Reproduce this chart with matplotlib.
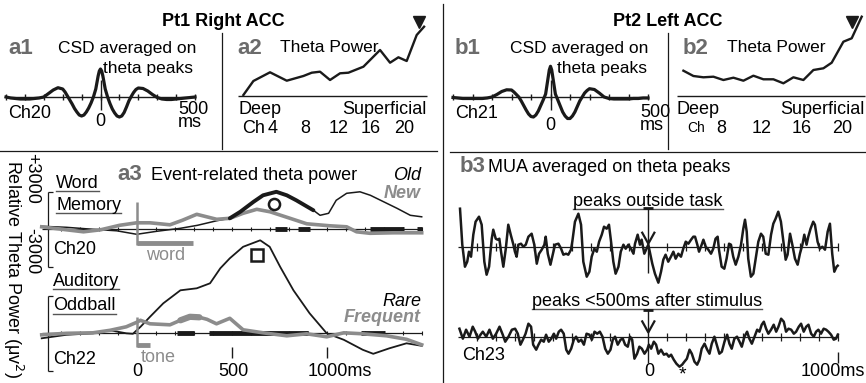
import numpy as np
import matplotlib
matplotlib.use('Agg')
import matplotlib.pyplot as plt

plt.rcParams['font.family'] = ['Liberation Sans', 'DejaVu Sans']

W, H = 866, 383
GRAY = '#8c8c8c'
LAB = '#6b6b6b'
INK = '#1a1a1a'

# ---- a1 / b1: CSD averaged on theta peaks (ms, a.u.)
csd_t = [-250, -237.5, -225, -212.5, -200, -187.5, -175, -162.5, -150, -137.5, -125, -112.5, -100,
         -93.75, -87.5, -81.25, -75, -68.75, -62.5, -56.25, -50, -43.75, -37.5, -31.25, -25,
         -18.75, -12.5, -6.25,
         -3.125, 0, 3.125,
         6.25, 12.5, 18.75, 25, 31.25, 37.5, 43.75, 50, 56.25, 62.5, 68.75, 75, 81.25, 87.5, 93.75,
         100, 112.5, 125, 137.5, 150, 162.5, 175, 187.5, 200, 212.5, 225, 237.5, 250]
csd_a1 = [0, -1, -1.5, -2, -2, -2, -1.5, -1, 0, 3.5, 7, 9.3, 8,
          5, 1, -3, -7, -11.5, -15, -18, -19, -18, -15, -11, -6, 0, 8, 21,
          26, 28, 26,
          21, 8, 0, -6.5, -12, -16, -19, -20, -19, -15.5, -10, -4, 0.5, 4.5, 7.5,
          9, 8.5, 6, 2.5, -0.5, -2, -2.5, -2.5, -2, -1.5, -1, -0.5, 0]
csd_b1 = [-0.5, -1, -1.5, -1.5, -1.5, -1.5, -1.5, -1, 0, 2.5, 5.5, 7.2, 7,
          5, 2.5, 0, -4, -8.5, -13, -17, -19.5, -20, -18, -14, -8.5, -3, 3, 19,
          27, 30.7, 27,
          19, 3, -3, -9, -15, -19, -21.5, -21.5, -19, -15, -9.5, -4, 0, 4, 6.5,
          8.3, 7.5, 4, 0, -1.5, -2, -2, -2, -2, -1.5, -1.5, -1, -1]

# ---- a2 / b2: theta power by channel (a.u.)
a2_ch = [0.42, 1.64, 3.67, 5.71, 7.74, 8.76, 9.77, 10.99, 12.21, 13.23,
         15.06, 17.09, 18.31, 19.33, 20.34, 21.56, 22.46]
a2_pow = [1, 15, 23.7, 15.3, 20, 23.3, 24.3, 16, 22.7, 23.3,
          29.3, 46, 33.3, 38.7, 35, 61, 69.3]
a2_peak = (21.85, 74.5)
b2_ch = [4.17, 5.17, 6.17, 7.17, 8.17, 9.17, 10.17, 11.17, 12.17, 13.17,
         14.17, 15.17, 16.17, 17.17, 18.17, 19.0, 20.17, 21.0, 22.0]
b2_pow = [25.3, 20, 18.7, 19.3, 16, 18.3, 15.3, 20.3, 16.7, 16.7,
          12.7, 18.7, 16, 26, 27.7, 33.3, 54.3, 57.7, 79.3]
b2_peak = (21.0, 74.5)
chan_ticks = [4, 8, 12, 16, 20]

# ---- a3: event-related theta power (ms, uV^2)
old_t = [-500, -370, -230, -105, 0, 105, 230, 320, 420, 490, 545, 615, 665, 735,
         790, 840, 930, 965, 1010, 1050, 1105, 1175, 1230, 1300, 1370, 1440, 1500]
old_v = [240, 160, 0, -120, -400, -160, 80, 320, 680, 880, 1400, 2200, 2720, 3000,
         2720, 2320, 1520, 1120, 1280, 2320, 2880, 3000, 2720, 2200, 1680, 1120, 1000]
new_t = [-500, -370, -280, -190, -90, 0, 70, 175, 240, 316, 421, 491, 560, 632,
         702, 807, 895, 1017, 1105, 1157, 1228, 1350, 1500]
new_v = [200, -40, -200, -40, 320, 520, 520, 360, 720, 1200, 800, 880, 1280, 1600,
         1400, 880, 440, 280, 200, -200, -320, -280, -280]
rare_t = [-500, -370, -230, -140, -55, -20, 20, 70, 140, 230, 316, 386, 440, 490,
          560, 650, 700, 755, 825, 910, 1000, 1090, 1190, 1245, 1330, 1420, 1500]
rare_v = [-400, -120, 0, 240, 0, -40, 520, 1320, 2400, 3440, 3600, 4000, 5200, 6000,
          6920, 7440, 6920, 5320, 3440, 1600, 0, -520, -1320, -1640, -1200, -800, -1000]
freq_t = [-500, -370, -230, -140, -55, 0, 20, 70, 175, 230, 280, 330, 370, 420,
          490, 560, 665, 790, 895, 1000, 1090, 1190, 1315, 1420, 1500]
freq_v = [-120, 0, 40, 240, 520, 880, 1040, 760, 680, 1040, 1320, 1280, 1120, 760,
          1200, 280, 40, -200, -40, -280, 40, -40, -200, -480, -920]
old_thick = (490, 930)
freq_thick = (230, 330)
old_sig = [(730, 790), (850, 910), (1230, 1405), (1475, 1500)]
rare_sig = [(210, 300), (380, 900), (1180, 1305)]
old_mark = (722, 2000)
rare_mark = (632, 6300)
word_dur = 296
tone_dur = 70

# ---- b3: MUA averaged on theta peaks (ms, a.u.)
mua1_t = [-991, -979, -965, -953, -944, -933, -921, -909, -891, -877, -863, -851, -838, -824,
          -816, -803, -793, -784, -775, -763, -750, -737, -724, -710, -702, -693, -684, -670,
          -658, -645, -631, -614, -600, -587, -575, -561, -547, -540, -529, -515, -503, -491,
          -473, -459, -447, -433, -421, -407, -400, -386, -368, -354, -342, -324, -310, -298,
          -284, -271, -259, -245, -233, -219, -207, -196, -184, -172, -157, -145, -131, -119,
          -105, -91, -78, -70, -56, -44, -35, -21, -9, 0, 21, 35, 53, 67, 79, 91, 105, 119,
          132, 144, 158, 172, 184, 197, 211, 225, 237, 246, 258, 267, 281, 290, 302, 316,
          330, 342, 354, 365, 372, 386, 400, 412, 425, 435, 447, 460, 474, 488, 500, 509,
          518, 526, 540, 553, 565, 579, 593, 605, 618, 632, 646, 658, 670, 684, 698, 711,
          723, 733, 746, 758, 772, 786, 798, 811, 821, 833, 842, 854, 868, 877, 891, 903,
          916, 930, 944, 956, 968, 979, 991, 997]
mua1_v = [38, 2, -20, -15, -5, -10, 12, 25, 30, 22, -15, -28, -20, 8,
          17, 8, 7, 8, -5, -20, -2, 22, 12, 2, -5, -10, 2, 3,
          0, 2, 10, 13, 2, -17, -7, -3, 2, 10, -7, -18, -8, 2,
          3, -2, -8, -7, -8, -3, 5, 25, 33, 22, -15, -30, -25, -10,
          -2, -5, 5, 12, 20, 18, 22, 5, -15, -27, -20, -5, 2, -2,
          2, -2, -7, 3, 12, 2, 7, -7, -2, 2, -17, -27, -36, -25, -13, -8, -15, -10,
          -5, -12, -7, -10, -2, 5, 3, 7, 10, 10, 2, -5, 2, 7, 0, -3,
          -7, -2, 8, 10, -3, -20, -22, -12, 3, 2, -10, -18, -10, 2, 18, 27,
          15, -12, -30, -27, -12, 5, 13, 10, -7, -8, 12, 23, 28, 35, 25, 5,
          -13, -8, 13, 2, -12, -18, -7, 2, 12, 2, 10, 18, 25, 22, 5, -2,
          0, -3, 15, 23, -7, -25, -20, -19]
mua2_t = [-994, -976, -959, -941, -924, -911, -897, -883, -871, -853,
          -836, -818, -801, -783, -766, -753, -736, -718, -701, -687,
          -673, -660, -646, -631, -617, -606, -590, -578, -564, -550,
          -538, -524, -511, -497, -485, -471, -459, -445, -432, -420,
          -406, -392, -380, -367, -353, -339, -325, -310, -297, -283,
          -269, -255, -241, -227, -213, -199, -187, -175, -161, -146,
          -134, -122, -108, -96, -85, -73, -59, -47, -34, -20,
          -6, 3, 15, 29, 41, 53, 67, 82, 96, 108,
          120, 134, 148, 164, 178, 190, 203, 217, 229, 243,
          257, 269, 281, 296, 310, 322, 334, 348, 360, 374,
          387, 401, 415, 427, 439, 453, 467, 480, 492, 506,
          520, 532, 545, 559, 573, 585, 597, 608, 620, 632,
          646, 660, 673, 685, 699, 713, 725, 738, 752, 766,
          778, 792, 804, 818, 831, 843, 857, 871, 883, 895,
          909, 923, 936, 948, 962, 976, 988, 997]
mua2_v = [8, -2, 7, 0, 10, 5, -2, 2, 5, 0,
          7, -2, 3, 10, 2, -5, 0, 7, 8, 3,
          -8, -3, 3, 13, 10, -8, -13, -8, -3, -5,
          2, -5, -2, 3, -2, 5, 7, 3, -13, -17,
          -12, -3, 0, -5, -3, -8, 3, 2, -3, 5,
          3, 5, 0, -12, -17, -13, -3, 0, -8, -3,
          -2, -8, -10, 0, -3, -22, -17, -10, -12, -17,
          -13, -8, -12, -5, -8, -17, -13, -18, -17, -20,
          -18, -23, -27, -30, -28, -25, -22, -13, -17, -25,
          -28, -23, -12, -7, -13, -17, -7, 0, -8, -17,
          -15, -5, 2, -7, -12, -2, 0, -5, -10, 0,
          5, -2, -7, 0, 7, 5, 12, 15, 8, 3,
          7, 12, 5, 10, 18, 15, 5, 8, 7, 3,
          5, 10, 13, 5, 10, 12, 3, 0, 5, 7,
          3, 8, 7, 5, 2, -3, -2, 2]
star_t = 180

fig = plt.figure(figsize=(W / 100, H / 100), dpi=100)
ov = fig.add_axes([0, 0, 1, 1])
ov.set_xlim(0, W)
ov.set_ylim(H, 0)
ov.axis('off')


def data_axes(x_px, x_val, base_y, yscale, top, bottom, margin=8):
    # axes placed so that x_val maps onto x_px and 0 sits on pixel row base_y
    (p0, p1), (v0, v1) = x_px, x_val
    k = (v1 - v0) / (p1 - p0)
    left, right = p0 - margin, p1 + margin
    ax = fig.add_axes([left / W, 1 - bottom / H, (right - left) / W, (bottom - top) / H])
    ax.set_xlim(v0 - margin * k, v1 + margin * k)
    ax.set_ylim(-(bottom - base_y) * yscale, (base_y - top) * yscale)
    ax.axis('off')
    return ax


def txt(x, y, s, size=13, ha='left', **kw):
    return ov.text(x, y, s, fontsize=size, ha=ha, va='center', **kw)


underlined = []

# dividers
ov.plot([443, 443], [4, H], color=INK, lw=0.9)
ov.plot([0, 437], [151, 151], color=INK, lw=0.9)
ov.plot([450, W], [152, 152], color=INK, lw=0.9)
ov.plot([222, 222], [33, 149], color=INK, lw=0.9)
ov.plot([668, 668], [33, 149], color=INK, lw=0.9)

txt(223, 22, 'Pt1 Right ACC', weight='bold', ha='center')
txt(668, 22, 'Pt2 Left ACC', weight='bold', ha='center')

# ---- CSD panels
for x_px, vals, lab, ch, cap_x, tp_x, zero_y, ms_x, ms_y in [
        ((6, 195), csd_a1, 'a1', 'Ch20', 58, 193, 121, 178, 116),
        ((453, 648), csd_b1, 'b1', 'Ch21', 510, 647, 126, 640, 119)]:
    ax = data_axes(x_px, (-250, 250), 97, 1, 50, 135)
    ax.hlines(0, -250, 250, color=INK, lw=1)
    ax.vlines(np.arange(-250, 251, 50), -3, 3, color=INK, lw=1)
    ax.vlines(0, -13, 17, color=INK, lw=1)
    ax.plot(csd_t, vals, color=INK, lw=2.3, solid_joinstyle='round')
    txt(x_px[0] + 2, 49, lab, size=16, weight='bold', color=LAB)
    txt(cap_x, 48, 'CSD averaged on', size=12.5)
    txt(tp_x, 69, 'theta peaks', size=12.5, ha='right')
    txt(x_px[0] + 2, 113, ch)
    txt((x_px[0] + x_px[1]) / 2, zero_y, '0', ha='center')
    txt(ms_x, ms_y, '500\nms', linespacing=0.75)

# ---- theta power panels
for x_px, x_val, chs, pw, peak, lab, lab_x, tp_x in [
        ((238.3, 426.7), (-0.2, 22.78), a2_ch, a2_pow, a2_peak, 'a2', 237, 280),
        ((676.7, 865), (3.5, 22.33), b2_ch, b2_pow, b2_peak, 'b2', 683, 727)]:
    ax = data_axes(x_px, x_val, 96, 1, 10, 140)
    ax.hlines(0, x_val[0], x_val[1], color=INK, lw=1)
    ax.plot(chs, pw, color=INK, lw=1.7, solid_joinstyle='round')
    ax.plot(*peak, marker='v', ms=8, color=INK)
    txt(lab_x, 49, lab, size=16, weight='bold', color=LAB)
    txt(tp_x, 48, 'Theta Power', size=12.5)
    txt(x_px[0], 109, 'Deep')
    txt(x_px[1], 109, 'Superficial', ha='right')
    for c in chan_ticks:
        if c == 4 and lab == 'b2':
            continue
        ax.text(c, -32, str(c), fontsize=13, ha='center', va='center')
    if lab == 'a2':
        ax.text(4 - 0.9, -32, 'Ch', fontsize=13, ha='right', va='center')
    else:
        ax.text(6.3, -32, 'Ch', fontsize=10, ha='right', va='center')

# ---- a3
a3_up = data_axes((41.7, 421.7), (-500, 1500), 229.3, 80, 175, 280)
a3_lo = data_axes((41.7, 421.7), (-500, 1500), 333.3, 80, 225, 383)
for ax in (a3_up, a3_lo):
    ax.hlines(0, -500, 1500, color=INK, lw=0.9)
    ax.vlines(np.arange(-400, 1501, 100), -160, 160, color=INK, lw=0.8)
    ax.vlines(-468, -3000, 3000, color=INK, lw=0.9)
    ax.hlines([-3000, 3000], -468, -440, color=INK, lw=0.9)

t_old, v_old = np.array(old_t), np.array(old_v)
a3_up.plot(old_t, old_v, color=INK, lw=1.1)
for a, b in old_sig:
    a3_up.hlines(0, a, b, color=INK, lw=3.5)
a3_up.plot(new_t, new_v, color=GRAY, lw=2.6, solid_joinstyle='round')
m = (t_old >= old_thick[0]) & (t_old <= old_thick[1])
a3_up.plot(t_old[m], v_old[m], color=INK, lw=2.8, solid_capstyle='round')
a3_up.plot(*old_mark, marker='o', ms=8, mfc='white', mec=INK, mew=1.8)
a3_up.vlines(0, -1250, 2200, color=GRAY, lw=1.8)
a3_up.hlines(-1130, 0, word_dur, color=GRAY, lw=3.5)

t_fr, v_fr = np.array(freq_t), np.array(freq_v)
for a, b in rare_sig:
    a3_lo.hlines(0, a, b, color=INK, lw=3.5)
a3_lo.plot(rare_t, rare_v, color=INK, lw=1.3)
a3_lo.plot(freq_t, freq_v, color=GRAY, lw=2.6, solid_joinstyle='round')
m = (t_fr >= freq_thick[0]) & (t_fr <= freq_thick[1])
a3_lo.plot(t_fr[m], v_fr[m], color=GRAY, lw=4.5, solid_capstyle='round')
a3_lo.plot(*rare_mark, marker='s', ms=8, mfc='white', mec=INK, mew=1.8)
a3_lo.vlines(0, -1070, 1330, color=GRAY, lw=1.8)
a3_lo.hlines(-900, 0, tone_dur, color=GRAY, lw=3.5)
a3_lo.vlines([500, 1000], -2000, -1070, color=INK, lw=1)

txt(117, 175, 'a3', size=16, weight='bold', color=LAB)
txt(151, 175, 'Event-related theta power', size=13)
underlined.append(txt(56, 183, 'Word'))
underlined.append(txt(56, 205, 'Memory'))
underlined.append(txt(53, 281, 'Auditory'))
underlined.append(txt(53, 306, 'Oddball'))
txt(53, 250, 'Ch20')
txt(53, 359, 'Ch22')
txt(146, 256, 'word', color=GRAY)
txt(141, 358, 'tone', color=GRAY)
txt(421, 176, 'Old', ha='right', style='italic')
txt(421, 194, 'New', ha='right', style='italic', weight='bold', color=GRAY)
txt(421, 302, 'Rare', ha='right', style='italic')
txt(421, 318, 'Frequent', ha='right', style='italic', weight='bold', color=GRAY)
txt(137, 371, '0', ha='center')
txt(233, 371, '500', ha='center')
txt(308, 371, '1000ms')
ov.text(32, 178, '+3000', fontsize=13, rotation=-90, ha='center', va='center')
ov.text(32, 251, '-3000', fontsize=13, rotation=-90, ha='center', va='center')
ov.text(13, 269, 'Relative Theta Power (\u03bcv$^2$)', fontsize=13, rotation=-90,
        ha='center', va='center')

# ---- b3
b3_up = data_axes((458.3, 838.3), (-1000, 1000), 246.7, 1, 195, 292)
b3_lo = data_axes((458.3, 838.3), (-1000, 1000), 336.7, 1, 292, 383)
ticks = [t for t in range(-900, 1001, 100) if t != 0]
for ax, top, tip in ((b3_up, 38.4, 3), (b3_lo, 26.7, 4.3)):
    ax.hlines(0, -1000, 1000, color=INK, lw=0.9)
    ax.vlines(ticks, -4, 4, color=INK, lw=0.9)
    ax.vlines(0, -26.5, top, color=INK, lw=1)
    ax.hlines(top, -26, 26, color=INK, lw=2)
    ax.plot([-32, 0, 32], [tip + 11, tip, tip + 11], color=INK, lw=1.6)
b3_up.plot(mua1_t, mua1_v, color=INK, lw=1.8, solid_joinstyle='round')
b3_lo.plot(mua2_t, mua2_v, color=INK, lw=1.8, solid_joinstyle='round')
b3_lo.vlines(1000, -26.7, -15, color=INK, lw=1)
b3_lo.text(star_t, -38, '*', fontsize=14, ha='center', va='center')

txt(460, 167, 'b3', size=16, weight='bold', color=LAB)
txt(488, 167, 'MUA averaged on theta peaks')
underlined.append(txt(573, 201, 'peaks outside task'))
underlined.append(txt(532, 301, 'peaks <500ms after stimulus'))
txt(462, 355, 'Ch23')
txt(649, 371, '0', ha='center')
txt(801, 371, '1000ms')

fig.canvas.draw()
for t in underlined:
    bb = t.get_window_extent()
    y = H - bb.y0 - 1
    ov.plot([bb.x0, bb.x1], [y, y], color='#555555', lw=1)

fig.savefig('out.png', dpi=100)
